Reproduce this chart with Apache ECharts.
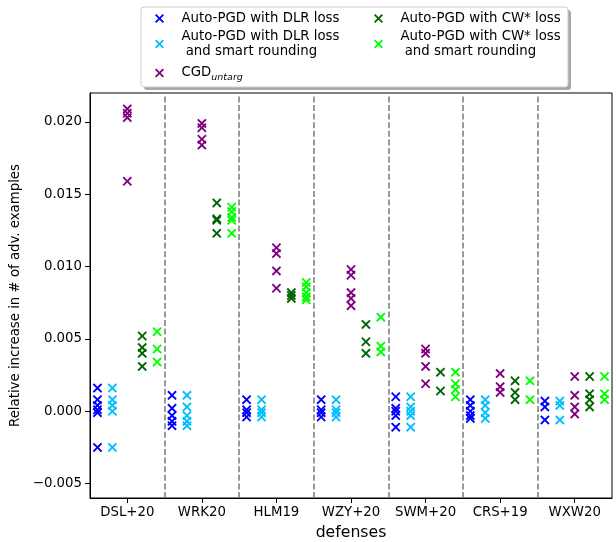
<!DOCTYPE html>
<html>
<head>
<meta charset="utf-8">
<script src="https://cdn.jsdelivr.net/npm/echarts@6/dist/echarts.min.js"></script>
<style>html,body{margin:0;padding:0;background:#fff;}#c{width:616px;height:542px;}</style>
</head>
<body>
<div id="c"></div>
<script>
const defenses = ['DSL+20', 'WRK20', 'HLM19', 'WZY+20', 'SWM+20', 'CRS+19', 'WXW20'];
const yTicks = [-0.005, 0.000, 0.005, 0.010, 0.015, 0.020];

// values per defense (one inner list per defense, same order as `defenses`)
const apgdDlr = [
  [0.0016, 0.0008, 0.0004, 0.0001, -0.0001, -0.0025],
  [0.0011, 0.0002, -0.0003, -0.0007, -0.0010],
  [0.0008, 0.0001, -0.0001, -0.0004],
  [0.0008, 0.0001, -0.0001, -0.0004],
  [0.0010, 0.0002, 0.0000, -0.0003, -0.0011],
  [0.0008, 0.0004, 0.0000, -0.0003, -0.0005],
  [0.0007, 0.0003, -0.0006]
];
const apgdDlrSr = [
  [0.0016, 0.0008, 0.0004, 0.0000, -0.0025],
  [0.0011, 0.0003, -0.0003, -0.0007, -0.0010],
  [0.0008, 0.0001, -0.0001, -0.0004],
  [0.0008, 0.0001, -0.0001, -0.0004],
  [0.0010, 0.0003, 0.0000, -0.0003, -0.0011],
  [0.0008, 0.0004, -0.0001, -0.0005],
  [0.0007, 0.0004, -0.0006]
];
const cgdUntarg = [
  [0.0209, 0.0206, 0.0203, 0.0159],
  [0.0199, 0.0196, 0.0188, 0.0184],
  [0.0113, 0.0109, 0.0097, 0.0085],
  [0.0098, 0.0094, 0.0082, 0.0078, 0.0073],
  [0.0043, 0.0040, 0.0031, 0.0019],
  [0.0026, 0.0017, 0.0013],
  [0.0024, 0.0011, 0.0003, -0.0002]
];
const apgdCw = [
  [0.0052, 0.0044, 0.0040, 0.0031],
  [0.0144, 0.0133, 0.0132, 0.0123],
  [0.0082, 0.0080, 0.0078],
  [0.0060, 0.0048, 0.0040],
  [0.0027, 0.0014],
  [0.0021, 0.0013, 0.0008],
  [0.0024, 0.0012, 0.0008, 0.0003]
];
const apgdCwSr = [
  [0.0055, 0.0043, 0.0034],
  [0.0141, 0.0138, 0.0134, 0.0132, 0.0123],
  [0.0089, 0.0086, 0.0082, 0.0079, 0.0077],
  [0.0065, 0.0045, 0.0041],
  [0.0027, 0.0019, 0.0015, 0.0010],
  [0.0021, 0.0008],
  [0.0024, 0.0012, 0.0008]
];

const seriesNames = [
  'Auto-PGD with DLR loss',
  'Auto-PGD with DLR loss\n and smart rounding',
  'CGD_untarg',
  'Auto-PGD with CW* loss',
  'Auto-PGD with CW* loss\n and smart rounding'
];
const seriesData = [apgdDlr, apgdDlrSr, cgdUntarg, apgdCw, apgdCwSr];
const colors = ['#0000ff', '#00bfff', '#800080', '#006400', '#00ff00'];
const offsets = [-0.4, -0.2, 0, 0.2, 0.4];

const t = 1.4;
const X = 'path://M0,' + t + 'L' + t + ',0L5,' + (5 - t) + 'L' + (10 - t) + ',0L10,' + t + 'L' + (5 + t) + ',5L10,' + (10 - t) +
  'L' + (10 - t) + ',10L5,' + (5 + t) + 'L' + t + ',10L0,' + (10 - t) + 'L' + (5 - t) + ',5Z';

const FONT = 'DejaVu Sans';

function toPoints(arr, k) {
  const pts = [];
  arr.forEach((vals, i) => vals.forEach(v => pts.push([i + offsets[k], v])));
  return pts;
}

const series = seriesNames.map((name, k) => ({
  name: name,
  type: 'scatter',
  symbol: X,
  symbolSize: 9.5,
  itemStyle: { color: colors[k], opacity: 1 },
  data: toPoints(seriesData[k], k),
  z: 3,
  emphasis: { disabled: true },
  animation: false
}));
series[0].markLine = {
  silent: true,
  symbol: 'none',
  label: { show: false },
  lineStyle: { color: '#808080', type: [6, 2.6], width: 1.6 },
  data: defenses.slice(1).map((d, i) => ({ xAxis: i + 0.5 })),
  animation: false
};

const legendText = {
  fontFamily: FONT, fontSize: 13.3, color: '#000', lineHeight: 15,
  rich: {
    a: { fontFamily: FONT, fontSize: 13.3, color: '#000', lineHeight: 20, verticalAlign: 'middle' },
    b: { fontFamily: FONT, fontSize: 9.5, fontStyle: 'italic', color: '#000', lineHeight: 10, verticalAlign: 'bottom' }
  }
};
function legendFmt(n) { return n === 'CGD_untarg' ? '{a|CGD}{b|untarg}' : n; }
function legendItems(idx) { return idx.map(i => ({ name: seriesNames[i], icon: X, itemStyle: { color: colors[i] } })); }
const legendBase = {
  orient: 'vertical', padding: 0, itemWidth: 34, itemHeight: 9, itemGap: 3,
  symbolKeepAspect: true, selectedMode: false, textStyle: legendText, formatter: legendFmt
};

const chart = echarts.init(document.getElementById('c'), null, { renderer: 'canvas' });
chart.setOption({
  animation: false,
  backgroundColor: '#fff',
  textStyle: { fontFamily: FONT },
  grid: { left: 90, right: 4, top: 93, bottom: 44, containLabel: false, outerBoundsMode: 'none',
    show: true, borderColor: '#000', borderWidth: 1, backgroundColor: 'transparent' },
  xAxis: {
    type: 'value', min: -0.5, max: 6.5,
    name: 'defenses', nameLocation: 'middle', nameGap: 27,
    nameTextStyle: { fontFamily: FONT, fontSize: 15.7, color: '#000' },
    axisLine: { show: true, onZero: false, lineStyle: { color: '#000', width: 1 } },
    axisTick: { show: true, length: 5, lineStyle: { color: '#000' }, customValues: defenses.map((d, i) => i) },
    axisLabel: { fontFamily: FONT, fontSize: 13.3, color: '#000', margin: 8, customValues: defenses.map((d, i) => i), formatter: v => defenses[Math.round(v)] },
    splitLine: { show: false }
  },
  yAxis: {
    type: 'value', min: -0.006, max: 0.022,
    name: 'Relative increase in # of adv. examples', nameLocation: 'middle', nameGap: 62,
    nameTextStyle: { fontFamily: FONT, fontSize: 13.3, color: '#000' },
    axisLine: { show: true, onZero: false, lineStyle: { color: '#000', width: 1 } },
    axisTick: { show: true, length: 5, lineStyle: { color: '#000' }, customValues: yTicks },
    axisLabel: { fontFamily: FONT, fontSize: 13.3, color: '#000', margin: 8, customValues: yTicks,
      formatter: v => (v < 0 ? '\u2212' : '') + Math.abs(v).toFixed(3) },
    splitLine: { show: false }
  },
  graphic: [
    { type: 'rect', z: 10, shape: { x: 144, y: 10, width: 427, height: 80, r: 3 }, style: { fill: '#a8a8a8' }, silent: true },
    { type: 'rect', z: 11, shape: { x: 141, y: 7, width: 427, height: 80, r: 3 }, style: { fill: '#fff', stroke: '#cccccc', lineWidth: 1 }, silent: true }
  ],
  legend: [
    Object.assign({}, legendBase, { left: 155, top: 11, data: legendItems([0, 1]), z: 20 }),
    Object.assign({}, legendBase, { left: 155, top: 63, data: legendItems([2]), z: 20 }),
    Object.assign({}, legendBase, { left: 374, top: 11, data: legendItems([3, 4]), z: 20 })
  ],
  series: series
});
</script>
</body>
</html>
